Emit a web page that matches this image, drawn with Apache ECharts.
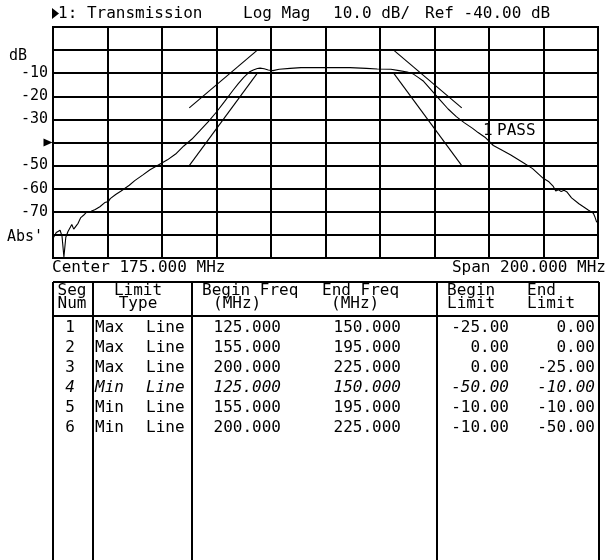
<!DOCTYPE html>
<html>
<head>
<meta charset="utf-8">
<script src="https://cdn.jsdelivr.net/npm/echarts@6/dist/echarts.min.js"></script>
<style>
  html, body { margin: 0; padding: 0; background: #fff; }
  #c { width: 607px; height: 560px; }
</style>
</head>
<body>
<div id="c"></div>
<script>
// Network analyzer transmission display with limit-line table
const FONT = '"DejaVu Sans Mono", "Liberation Mono", monospace';

// Sweep and scale settings
const centerMHz = 175;
const spanMHz = 200;
const refDb = -40;
const dbPerDiv = 10;
const yMinDb = -90;
const yMaxDb = 10;

// Left axis annotation
const yTickValues = [0, -10, -20, -30, -50, -60, -70, -80];
const yTickTexts = ['dB', '-10', '-20', '-30', '-50', '-60', '-70', "Abs'"];

// Measured transmission trace
const traceFreqMHz = [
  75, 76.2, 77.6, 78.3, 79, 79.7, 80.5, 81.2, 81.9, 82.6, 83.3, 84.2, 85.2, 86.2, 87.4,
  89, 90.5, 92.2, 94, 94.7, 95.3, 96, 98, 100, 103, 105, 108, 110.6, 114.3, 117,
  120, 123, 126, 129, 132, 135, 138, 141, 143, 145, 147, 148.5, 150, 151, 152.5,
  154, 155.7, 158, 162, 166, 175, 184, 190, 194, 199, 202, 205, 207, 209, 211,
  214, 217, 220, 223, 226, 229, 231, 233.5, 236.6, 240, 243, 247.6, 251, 254.9, 257,
  258.6, 259.5, 260.5, 261.5, 262.5, 263.5, 265.3, 268, 271.4, 273.3, 273.8, 274.5, 275
];
const traceDb = [
  -81.5, -79, -78, -80.5, -89.5, -81, -78.5, -79, -75.5, -77.5, -78, -75, -72.5, -71.5, -70,
  -69.8, -69, -67.8, -66, -65.2, -65.6, -64.3, -62.5, -61, -58.5, -56.5, -54, -51.8, -49.3, -47.5,
  -45, -41.5, -38.5, -34.8, -31, -26.8, -22.2, -17.5, -14.5, -11.8, -9.5, -8.6, -8, -7.8, -8.1,
  -8.6, -8.9, -8.3, -7.9, -7.6, -7.5, -7.6, -7.9, -8.2, -8.3, -8.9, -9.5, -10.2, -11.8, -13.5,
  -17.5, -21.5, -25.5, -28.8, -31.5, -33.9, -35.7, -37.7, -41.3, -43.5, -45.4, -48.8, -51.3, -55.5, -57,
  -59, -61, -60.5, -61.2, -60.7, -61.3, -64, -66.5, -69.2, -70.6, -72, -74.5, -74
];

// Limit line segments
const segNum = [1, 2, 3, 4, 5, 6];
const segType = ['Max', 'Max', 'Max', 'Min', 'Min', 'Min'];
const segBeginFreq = [125, 155, 200, 125, 155, 200];
const segEndFreq = [150, 195, 225, 150, 195, 225];
const segBeginLimit = [-25, 0, 0, -50, -10, -10];
const segEndLimit = [0, 0, -25, -10, -10, -50];

const startMHz = centerMHz - spanMHz / 2;
const stopMHz = centerMHz + spanMHz / 2;

const chart = echarts.init(document.getElementById('c'), null, { renderer: 'canvas' });

const traceData = traceFreqMHz.map((f, i) => [f, traceDb[i]]);

const limitSeries = segNum.map((n, i) => ({
  type: 'line',
  name: 'Segment ' + n,
  xAxisIndex: 0,
  yAxisIndex: 0,
  data: [[segBeginFreq[i], segBeginLimit[i]], [segEndFreq[i], segEndLimit[i]]],
  showSymbol: false,
  symbol: 'none',
  silent: true,
  lineStyle: { color: '#000', width: 1.1 },
  z: 3
}));

// Table layout
const tbl = {
  left: 53, right: 599, top: 282, headSep: 316, bottom: 560,
  cols: [53, 93, 192, 437, 599],
  row0: 328, rowStep: 20
};

const txt = (text, x, y, align, extra) => ({
  type: 'text', x: x, y: y, silent: true,
  style: Object.assign({
    text: text, fill: '#000', font: '16px ' + FONT,
    align: align || 'left', verticalAlign: 'middle'
  }, extra || {}),
  z: 10
});

const ln = (x1, y1, x2, y2, w) => ({
  type: 'line', silent: true,
  shape: { x1: x1, y1: y1, x2: x2, y2: y2 },
  style: { stroke: '#000', lineWidth: w || 2 },
  z: 10
});

const fmtLimit = v => v.toFixed(2);
const fmtFreq = v => v.toFixed(3);

const graphics = [];

// Header line above the graticule: active channel pointer, then channel settings
graphics.push({
  type: 'polygon', silent: true, z: 10,
  shape: { points: [[52, 8], [52, 19], [59, 13.5]] },
  style: { fill: '#000' }
});
graphics.push(txt('1: Transmission', 58, 14));
graphics.push(txt('Log Mag', 243, 14));
graphics.push(txt(dbPerDiv.toFixed(1) + ' dB/', 333, 14));
graphics.push(txt('Ref ' + refDb.toFixed(2) + ' dB', 425, 14));

// Limit test result
graphics.push(txt('1', 483, 131));
graphics.push(txt('PASS', 497, 131));

// Sweep annotation below the graticule
graphics.push(txt('Center ' + centerMHz.toFixed(3) + ' MHz', 52, 268));
graphics.push(txt('Span ' + spanMHz.toFixed(3) + ' MHz', 606, 268, 'right'));

// Table frame
graphics.push(ln(tbl.left, tbl.top, tbl.right, tbl.top));
graphics.push(ln(tbl.left, tbl.headSep, tbl.right, tbl.headSep));
tbl.cols.forEach(x => graphics.push(ln(x, tbl.top, x, tbl.bottom)));

// Table header
graphics.push(txt('Seg', 72, 291, 'center'));
graphics.push(txt('Num', 72, 304, 'center'));
graphics.push(txt('Limit', 138, 291, 'center'));
graphics.push(txt('Type', 138, 304, 'center'));
graphics.push(txt('Begin Freq', 202, 291));
graphics.push(txt('(MHz)', 213, 304));
graphics.push(txt('End Freq', 322, 291));
graphics.push(txt('(MHz)', 331, 304));
graphics.push(txt('Begin', 447, 291));
graphics.push(txt('Limit', 447, 304));
graphics.push(txt('End', 527, 291));
graphics.push(txt('Limit', 527, 304));

// Table rows
segNum.forEach((n, i) => {
  const y = tbl.row0 + i * tbl.rowStep;
  const ex = i === 3 ? { font: 'italic 16px ' + FONT } : {};
  graphics.push(txt(String(n), 70, y, 'center', ex));
  graphics.push(txt(segType[i], 95, y, 'left', ex));
  graphics.push(txt('Line', 146, y, 'left', ex));
  graphics.push(txt(fmtFreq(segBeginFreq[i]), 281, y, 'right', ex));
  graphics.push(txt(fmtFreq(segEndFreq[i]), 401, y, 'right', ex));
  graphics.push(txt(fmtLimit(segBeginLimit[i]), 509, y, 'right', ex));
  graphics.push(txt(fmtLimit(segEndLimit[i]), 595, y, 'right', ex));
});

const option = {
  animation: false,
  backgroundColor: '#fff',
  grid: {
    left: 53, right: 9, top: 27, bottom: 302,
    show: true, borderColor: '#000', borderWidth: 2, backgroundColor: 'transparent'
  },
  xAxis: [
    {
      type: 'value', min: startMHz, max: stopMHz,
      axisLine: { show: false }, axisTick: { show: false },
      axisLabel: { show: false }, splitLine: { show: false }
    },
    {
      // ten graticule divisions across the span
      type: 'value', min: 0, max: 10, interval: 1, position: 'top',
      axisLine: { show: false }, axisTick: { show: false },
      axisLabel: { show: false },
      splitLine: { show: true, lineStyle: { color: '#000', width: 2 } }
    }
  ],
  yAxis: {
    type: 'value', min: yMinDb, max: yMaxDb, interval: dbPerDiv,
    axisLine: { show: false }, axisTick: { show: false },
    splitLine: { show: true, lineStyle: { color: '#000', width: 2 } },
    axisLabel: {
      show: true, color: '#000', fontFamily: FONT, fontSize: 15, margin: 5,
      formatter: v => {
        const k = yTickValues.indexOf(v);
        if (k < 0) return '';
        const t = yTickTexts[k];
        if (t === 'dB') return '{u|dB}';
        if (t === "Abs'") return '{a|' + t + '}';
        return t;
      },
      rich: {
        u: { fontFamily: FONT, fontSize: 15, color: '#000', padding: [12, 21, 0, 0] },
        a: { fontFamily: FONT, fontSize: 15, color: '#000', padding: [4, 5, 0, 0] }
      }
    }
  },
  series: [
    {
      type: 'line',
      name: 'Transmission',
      xAxisIndex: 0,
      yAxisIndex: 0,
      data: traceData,
      showSymbol: false,
      symbol: 'none',
      silent: true,
      lineStyle: { color: '#000', width: 1.1 },
      z: 4,
      markPoint: {
        silent: true,
        symbol: 'triangle',
        symbolRotate: -90,
        symbolSize: [8, 9],
        symbolOffset: [-5, 0],
        itemStyle: { color: '#000' },
        label: { show: false },
        data: [{ coord: [startMHz, refDb] }]
      }
    }
  ].concat(limitSeries),
  graphic: graphics
};

chart.setOption(option);
</script>
</body>
</html>
